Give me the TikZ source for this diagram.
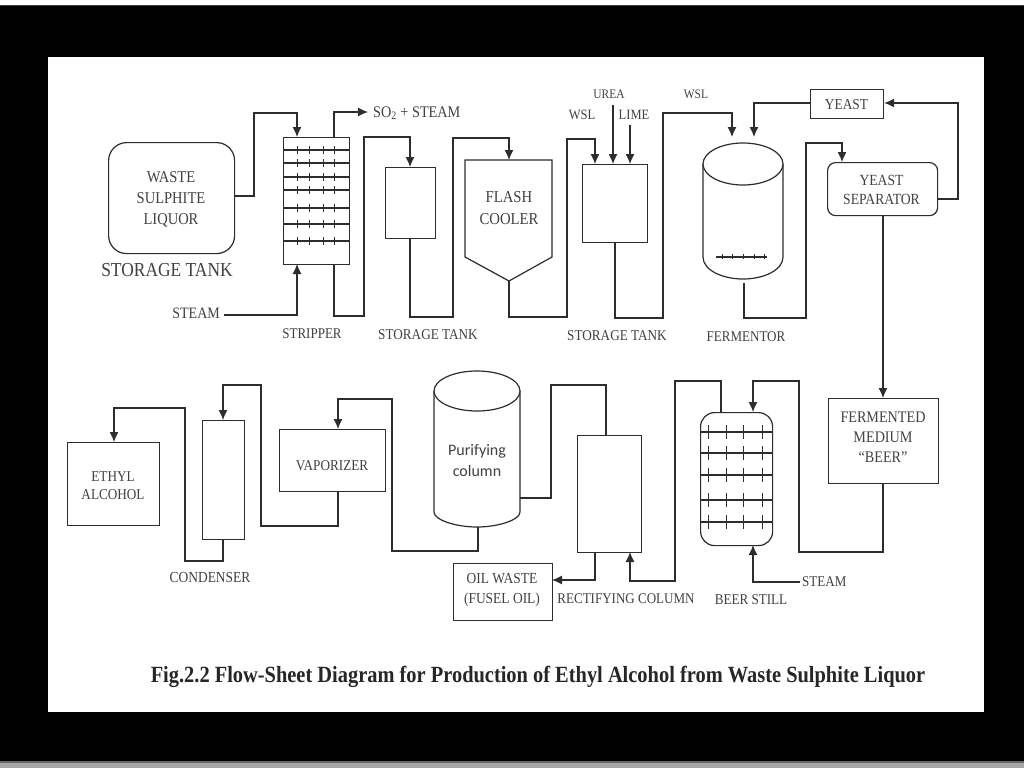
\documentclass[tikz,border=0pt]{standalone}
\usepackage{fontspec}
\setmainfont[FakeStretch=0.88]{Liberation Serif}
\newfontfamily\sansf{Carlito}
\usetikzlibrary{arrows.meta}
\definecolor{ink}{RGB}{45,45,45}
\definecolor{txt}{RGB}{65,65,65}
\tikzset{
  equip/.style={draw=ink,line width=1.2pt,fill=white},
  pipe/.style={draw=ink,line width=1.2pt,line join=miter},
  flow/.style={pipe,-{Latex[length=10pt,width=9pt]}},
  tray/.style={draw=ink,line width=1.1pt},
  lbl/.style={text=txt,font=\fontsize{#1}{#1}\selectfont,inner sep=0pt,align=center},
  lbl/.default=14
}
\begin{document}
\begin{tikzpicture}[x=1pt,y=-1pt]
\useasboundingbox (0,0) rectangle (1024,768);
\fill[black] (0,0) rectangle (1024,768);
\fill[white] (0,0) rectangle (1024,5);
\fill[black!75] (0,5) rectangle (1024,6);
\fill[black!60] (0,761) rectangle (1024,763);
\fill[black!35] (0,763) rectangle (1024,768);
\fill[white] (48,57) rectangle (984,712);
% equipment
\node[equip,rounded corners=18pt,minimum width=126pt,minimum height=111pt,anchor=north west] (waste) at (108,142) {};
\node[lbl=16.5,anchor=center] (wastet) at (171,199) {WASTE\\[4.5pt]SULPHITE\\[4.5pt]LIQUOR};
\node[lbl=19.8] (st1) at (167,270) {STORAGE TANK};
\node[equip,minimum width=66pt,minimum height=127pt,anchor=north west] (stripper) at (283,137) {};
\node[equip,minimum width=50pt,minimum height=71pt,anchor=north west] (tank2) at (385,167) {};
\node[equip,minimum width=65pt,minimum height=78pt,anchor=north west] (tank3) at (582,164) {};
\node[equip,minimum width=73pt,minimum height=29pt,anchor=north west] (yeast) at (810,89) {};
\node[lbl=15.2] at (846.5,104.5) {YEAST};
\node[equip,rounded corners=8pt,minimum width=110pt,minimum height=53pt,anchor=north west] (sep) at (827,162) {};
\node[lbl=15.5] (sept) at (881.5,190) {YEAST\\[3.5pt]SEPARATOR};
\node[equip,minimum width=110pt,minimum height=85pt,anchor=north west] (beer) at (828,398) {};
\node[lbl=16.1] (beert) at (883,437) {FERMENTED\\[4pt]MEDIUM\\[4pt]``BEER''};
\node[equip,rounded corners=14pt,minimum width=72pt,minimum height=133pt,anchor=north west] (still) at (700,412) {};
\node[equip,minimum width=64pt,minimum height=117pt,anchor=north west] (rect) at (577,435) {};
\node[equip,minimum width=106pt,minimum height=62pt,anchor=north west] (vap) at (279,429) {};
\node[lbl=15] at (332,466) {VAPORIZER};
\node[equip,minimum width=42pt,minimum height=119pt,anchor=north west] (cond) at (202,420) {};
\node[equip,minimum width=92pt,minimum height=83pt,anchor=north west] (ethyl) at (67,442) {};
\node[lbl=15] (etht) at (113,486) {ETHYL\\[3pt]ALCOHOL};
\node[equip,minimum width=99pt,minimum height=57pt,anchor=north west] (oil) at (453,563) {};
\node[lbl=15.3] (oilt) at (502,590) {OIL WASTE\\[5.5pt](FUSEL OIL)};
% flash cooler
\draw[equip] (465,160) -- (552,160) -- (552,257) -- (509,281) -- (465,257) -- cycle;
\coordinate (coolerTop) at (509,160);
\coordinate (coolerTip) at (509,281);
\node[lbl=16.7] (coolt) at (509,208) {FLASH\\[4.5pt]COOLER};
% fermentor
\draw[equip] (703,164) -- (703,257) .. controls (703,270) and (722,279) .. (743,279) .. controls (764,279) and (783,270) .. (783,257) -- (783,164);
\draw[equip] (743,164) ellipse [x radius=40,y radius=21];
\draw[tray] (716,257) -- (767,257);
\foreach \x in {722,732,743,754,764} \draw[tray,line width=.8pt] (\x,254) -- (\x,259);
% purifying column
\draw[equip] (434,391) -- (434,512) .. controls (434,520) and (456,527) .. (477,527) .. controls (498,527) and (520,520) .. (520,512) -- (520,391);
\draw[equip] (477,391) ellipse [x radius=43,y radius=20];
\node[lbl=16,font=\sansf\fontsize{16}{16}\selectfont] (purt) at (477,461) {Purifying\\[5pt]column};
% trays
\foreach \y in {150,163,177,190,208,224,241} {
  \draw[tray] (283,\y) -- (349,\y);
  \foreach \x in {297,309,323,334} \draw[tray,line width=.8pt] (\x,\y-4) -- (\x,\y+4);
}
\foreach \y in {432,453,475,500,522} {
  \draw[tray] (700,\y) -- (772,\y);
  \foreach \x in {708,726,743,762} \draw[tray,line width=.8pt] (\x,\y-7) -- (\x,\y+7);
}
% free ends
\coordinate (steamA) at (224,315);
\coordinate (soOut) at (368,112);
\coordinate (ureaIn) at (613,105);
\coordinate (limeIn) at (630,125);
\coordinate (steamB) at (800,582);
% connectors
\draw[flow] (waste.east |- 0,196) -| (254,113) -| (297,137);
\draw[flow] (334,137) |- (soOut);
\draw[flow] (steamA) -| (297,264);
\draw[flow] (334,264) |- (364,316) |- (410,137) -- (410,167);
\draw[flow] (410,238) |- (453,317) |- (509,138) -- (coolerTop);
\draw[flow] (coolerTip) |- (567,317) |- (595,139) -- (595,164);
\draw[flow] (ureaIn) -- (613,164);
\draw[flow] (limeIn) -- (630,164);
\draw[flow] (615,242) |- (663,318) |- (732,113) -- (732,137);
\draw[flow] (810,103) -| (754,137);
\draw[flow] (744,283) |- (806,318) |- (842,143) -- (842,162);
\draw[flow] (937,199) -| (958,103) -- (yeast.east |- 0,103);
\draw[flow] (883,215) -- (883,398);
\draw[flow] (883,483) |- (799,552) |- (753,381) -- (753,412);
\draw[flow] (steamB) -| (753,545);
\draw[flow] (721,412) |- (675,381) |- (630,581) -- (630,552);
\draw[pipe] (606,435) |- (551,385) |- (520,498);
\draw[flow] (595,552) |- (552,580);
\draw[flow] (478,527) |- (392,551) |- (338,399) -- (338,429);
\draw[flow] (338,491) |- (261,526) |- (223,385) -- (223,420);
\draw[flow] (223,539) |- (185,561) |- (114,408) -- (114,442);
% labels
\node[lbl=16.2,anchor=west] (so) at (373,113) {SO\textsubscript{2} + STEAM};
\node[lbl=15.9,anchor=east] (s1) at (220,313) {STEAM};
\node[lbl=14.8] (l1) at (312,334) {STRIPPER};
\node[lbl=15] (l2) at (428,335) {STORAGE TANK};
\node[lbl=15] (l3) at (617,336) {STORAGE TANK};
\node[lbl=14.8] (l4) at (746,337) {FERMENTOR};
\node[lbl=13] (u) at (609,94) {UREA};
\node[lbl=14.2] (w1) at (582,115) {WSL};
\node[lbl=14.2] (li) at (634,115) {LIME};
\node[lbl=13] (w2) at (696,94) {WSL};
\node[lbl=14.8,anchor=west] (s2) at (802,582) {STEAM};
\node[lbl=15.3] (l5) at (210,578) {CONDENSER};
\node[lbl=14.8] (l6) at (626,599) {RECTIFYING COLUMN};
\node[lbl=14.9] (l7) at (751,600) {BEER STILL};
\node[inner sep=0pt,text=black!85,font=\bfseries\fontsize{23.2}{23.2}\selectfont] (cap) at (538,677) {Fig.2.2 Flow-Sheet Diagram for Production of Ethyl Alcohol from Waste Sulphite Liquor};
\end{tikzpicture}
\end{document}
